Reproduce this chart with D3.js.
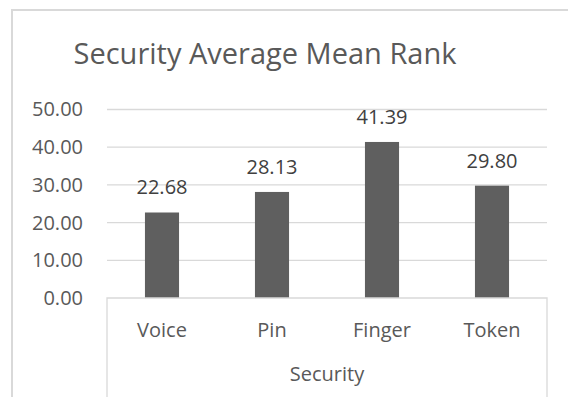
<!DOCTYPE html>
<html>
<head>
<meta charset="utf-8">
<script src="https://cdn.jsdelivr.net/npm/d3@7"></script>
<style>
  body { margin: 0; background: #fff; }
  text { font-family: "Open Sans", "Noto Sans", sans-serif; }
</style>
</head>
<body>
<div id="chart"></div>
<script>
// データ
const categories = ["Voice", "Pin", "Finger", "Token"];
const values = [22.68, 28.13, 41.39, 29.80];
const yTicks = [0, 10, 20, 30, 40, 50];

const width = 568;
const height = 397;

const svg = d3.select("#chart")
  .append("svg")
  .attr("width", width)
  .attr("height", height);

// 外枠（右と下は切れている）
svg.append("path")
  .attr("d", "M12,397 V10 H568")
  .attr("fill", "none")
  .attr("stroke", "#d9d9d9")
  .attr("stroke-width", 2);

// タイトル
svg.append("text")
  .attr("x", 265)
  .attr("y", 64)
  .attr("text-anchor", "middle")
  .attr("fill", "#595959")
  .style("font-size", "29px")
  .text("Security Average Mean Rank");

// スケール
const x = d3.scaleBand()
  .domain(categories)
  .range([107, 547])
  .paddingInner(0.69)
  .paddingOuter(0.345);

const y = d3.scaleLinear()
  .domain([0, 50])
  .range([298, 109.5]);

// グリッド線
svg.append("g")
  .selectAll("line")
  .data(yTicks.filter(d => d > 0))
  .enter()
  .append("line")
  .attr("x1", 107)
  .attr("x2", 547)
  .attr("y1", d => y(d))
  .attr("y2", d => y(d))
  .attr("stroke", "#d9d9d9")
  .attr("stroke-width", 1.3);

// Y軸ラベル
const yAxis = svg.append("g")
  .attr("transform", "translate(92,0)")
  .call(d3.axisLeft(y).tickValues(yTicks).tickFormat(d3.format(".2f")).tickSize(0).tickPadding(9));
yAxis.select(".domain").remove();
yAxis.selectAll("text")
  .attr("fill", "#595959")
  .style("font-size", "20px")
  .style("font-family", "'Open Sans', sans-serif");

// 棒
svg.selectAll(".bar")
  .data(values)
  .enter()
  .append("rect")
  .attr("class", "bar")
  .attr("x", (d, i) => x(categories[i]))
  .attr("y", d => y(d))
  .attr("width", x.bandwidth())
  .attr("height", d => y(0) - y(d))
  .attr("fill", "#5f5f5f");

// 値ラベル
svg.selectAll(".label")
  .data(values)
  .enter()
  .append("text")
  .attr("class", "label")
  .attr("x", (d, i) => x(categories[i]) + x.bandwidth() / 2)
  .attr("y", d => y(d) - 18)
  .attr("text-anchor", "middle")
  .attr("fill", "#404040")
  .style("font-size", "20px")
  .text(d => d.toFixed(2));

// X軸の枠
svg.append("path")
  .attr("d", "M107,397 V298 H547 V397")
  .attr("fill", "none")
  .attr("stroke", "#d9d9d9")
  .attr("stroke-width", 1.3);

// X軸ラベル
svg.selectAll(".cat")
  .data(categories)
  .enter()
  .append("text")
  .attr("class", "cat")
  .attr("x", d => x(d) + x.bandwidth() / 2)
  .attr("y", 337)
  .attr("text-anchor", "middle")
  .attr("fill", "#595959")
  .style("font-size", "20px")
  .text(d => d);

// 軸タイトル
svg.append("text")
  .attr("x", 327)
  .attr("y", 381)
  .attr("text-anchor", "middle")
  .attr("fill", "#595959")
  .style("font-size", "20px")
  .text("Security");
</script>
</body>
</html>
